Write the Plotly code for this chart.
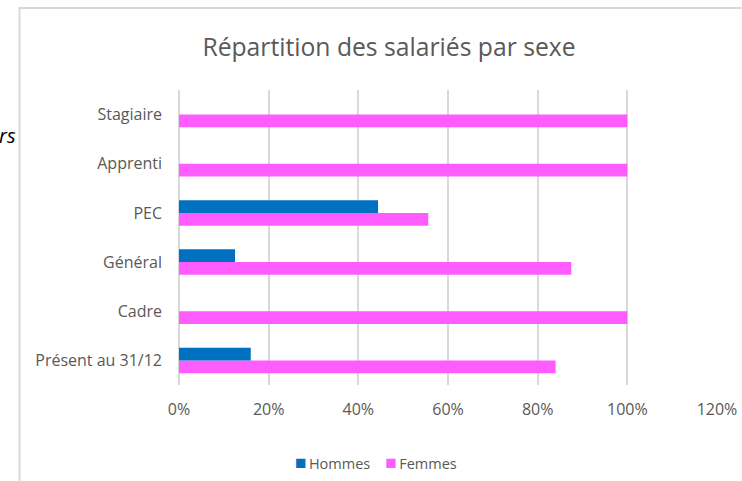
import plotly.graph_objects as go

categories = ["Présent au 31/12", "Cadre", "Général", "PEC", "Apprenti", "Stagiaire"]
hommes = [0.16, 0.0, 0.125, 0.444, 0.0, 0.0]
femmes = [0.84, 1.0, 0.875, 0.556, 1.0, 1.0]
tick_vals = [0, 0.2, 0.4, 0.6, 0.8, 1.0, 1.2]
tick_text = ["0%", "20%", "40%", "60%", "80%", "100%", "120%"]
series_names = ["Hommes", "Femmes"]
series_colors = ["#0070C0", "#FF5CFF"]

W, H = 742, 481
L, R, T, B = 179, 25, 90, 96
pw, ph = W - L - R, H - T - B

def px(x):
    return (x - L) / pw

def py(y):
    return (H - B - y) / ph

fig = go.Figure()
fig.add_trace(go.Bar(y=categories, x=femmes, name=series_names[1], orientation="h",
                     marker=dict(color=series_colors[1], line=dict(width=0)),
                     showlegend=False))
fig.add_trace(go.Bar(y=categories, x=hommes, name=series_names[0], orientation="h",
                     marker=dict(color=series_colors[0], line=dict(width=0)),
                     showlegend=False))

legend_text = "\u00a0\u00a0\u00a0\u00a0".join(
    f"<span style='color:{c};font-size:19px'>■</span>\u2009{n}"
    for n, c in zip(series_names, series_colors)
)

fig.update_layout(
    width=W, height=H,
    margin=dict(l=L, r=R, t=T, b=B, autoexpand=False),
    paper_bgcolor="white", plot_bgcolor="white",
    barmode="group", bargap=0.48, bargroupgap=0,
    font=dict(family="Open Sans", color="#595959"),
    title=dict(text="Répartition des salariés par sexe", x=389 / W, xanchor="center",
               y=1 - 47 / H, yanchor="middle",
               font=dict(size=24.7, color="#595959", family="Open Sans")),
    xaxis=dict(range=[0, 1.2], tickvals=tick_vals, ticktext=tick_text,
               showgrid=True, gridcolor="#D9D9D9", gridwidth=1.5,
               zeroline=True, zerolinecolor="#D9D9D9", zerolinewidth=1.5,
               tickfont=dict(size=16, color="#595959"), ticks="", showline=False,
               ticklabelstandoff=13, fixedrange=True, automargin=False),
    yaxis=dict(categoryorder="array", categoryarray=categories,
               tickfont=dict(size=16, color="#595959"), ticks="",
               ticklabelstandoff=16, showline=False, showgrid=False,
               fixedrange=True, automargin=False),
    shapes=[
        dict(type="line", xref="paper", yref="paper", x0=px(19.5), x1=px(742),
             y0=py(8), y1=py(8), line=dict(color="#D9D9D9", width=2)),
        dict(type="line", xref="paper", yref="paper", x0=px(19.5), x1=px(19.5),
             y0=py(7), y1=py(481), line=dict(color="#D9D9D9", width=2)),
    ],
    annotations=[
        dict(text="<i>rs</i>", xref="paper", yref="paper", x=px(18), y=py(135),
             xanchor="right", yanchor="middle", showarrow=False,
             font=dict(size=20, color="black", family="Open Sans")),
        dict(text=legend_text, xref="paper", yref="paper", x=px(376), y=py(462),
             xanchor="center", yanchor="middle", showarrow=False,
             font=dict(size=14.5, color="#595959", family="Open Sans")),
    ],
)

fig.write_html(
    "out.html",
    config={"displayModeBar": False},
    post_script=(
        "document.body.style.margin='0px';"
        "document.body.style.overflow='hidden';"
        "document.documentElement.style.overflow='hidden';"
    ),
)
